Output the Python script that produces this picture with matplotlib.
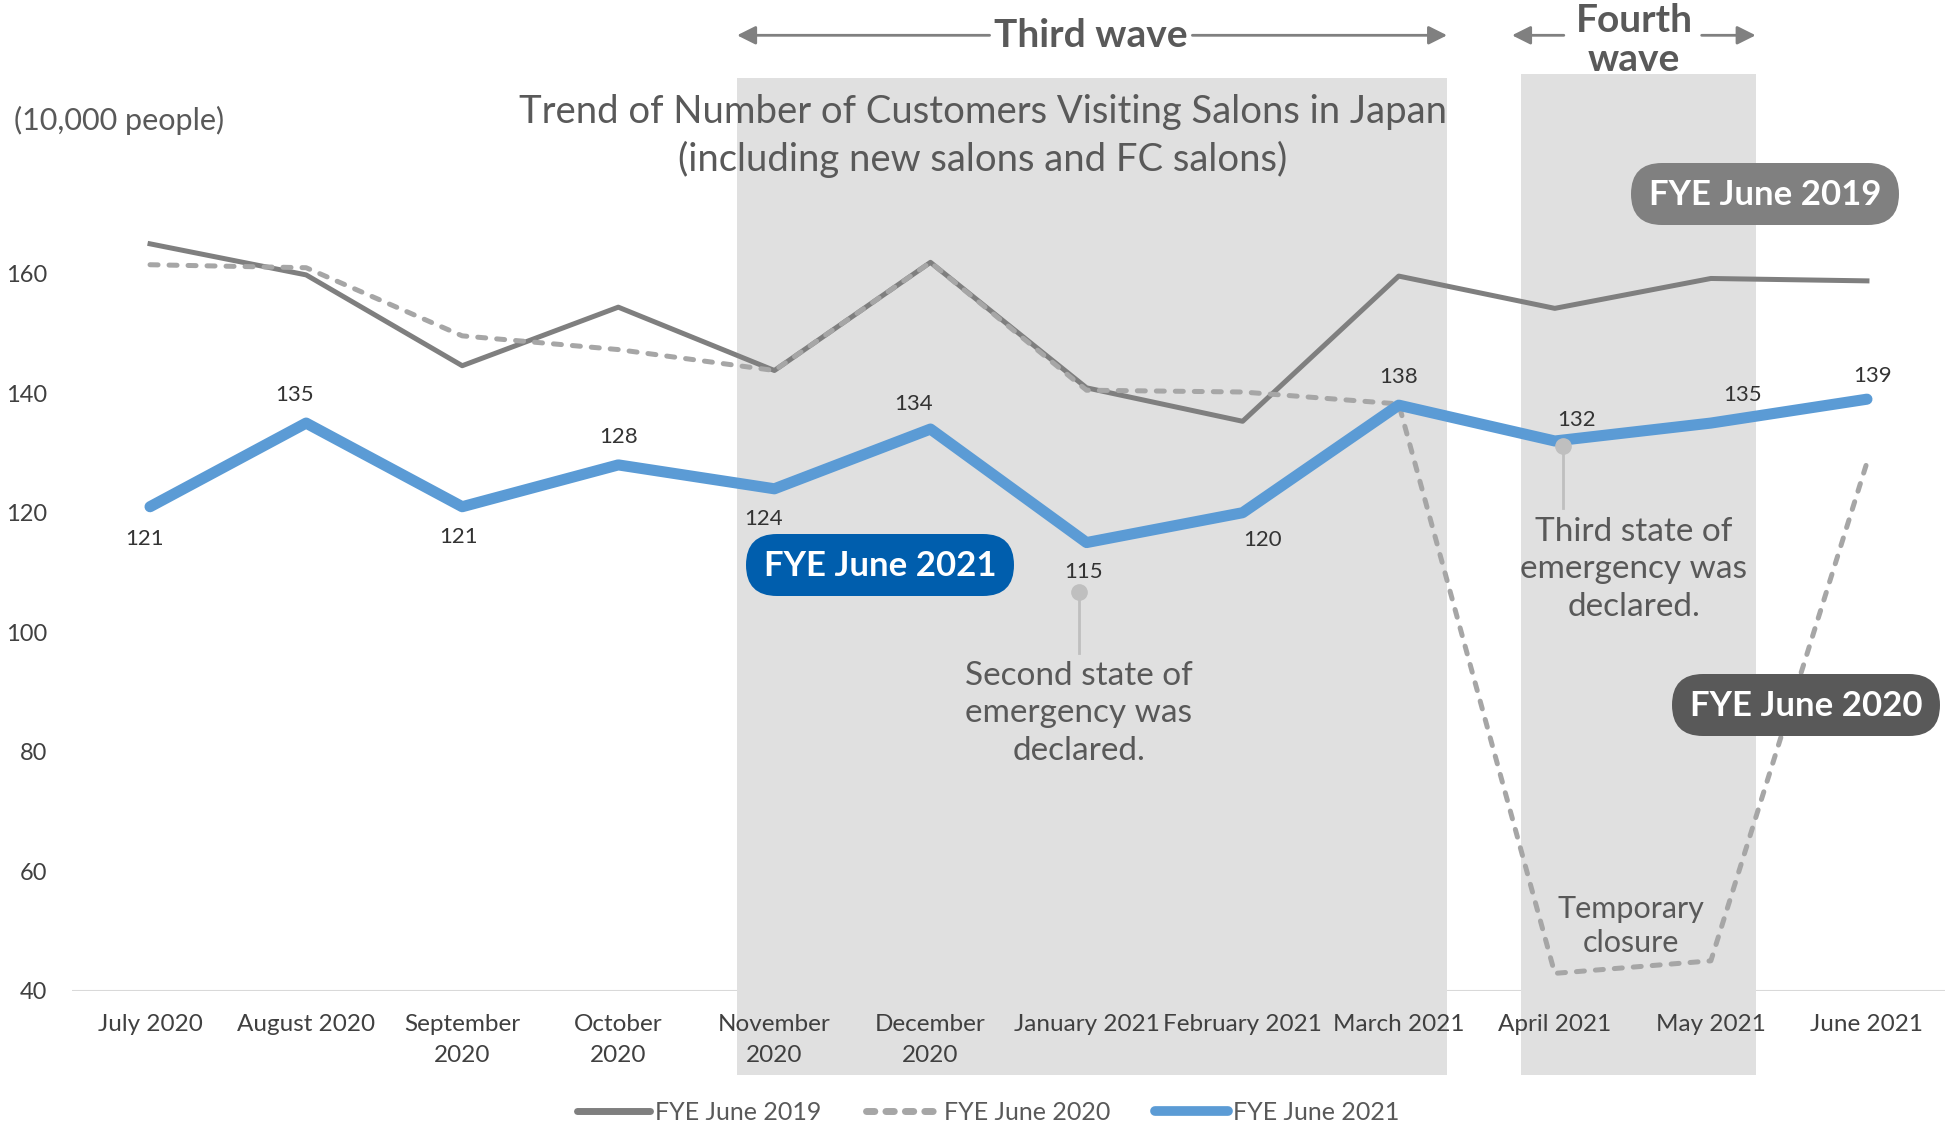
import matplotlib
matplotlib.use("Agg")
import matplotlib.pyplot as plt
from matplotlib.patches import Rectangle, FancyBboxPatch
from matplotlib.lines import Line2D
from matplotlib.transforms import IdentityTransform

plt.rcParams["font.family"] = ["Lato", "DejaVu Sans"]

months = ["July 2020", "August 2020", "September\n2020", "October\n2020",
          "November\n2020", "December\n2020", "January 2021", "February 2021",
          "March 2021", "April 2021", "May 2021", "June 2021"]
fye_2019 = [165.0, 159.8, 144.6, 154.4, 143.8, 161.9, 140.9, 135.3, 159.6, 154.2, 159.2, 158.8]
fye_2020 = [161.5, 161.0, 149.6, 147.3, 143.8, 161.9, 140.5, 140.2, 138.2, 42.9, 45.0, 128.4]
fye_2021 = [121, 135, 121, 128, 124, 134, 115, 120, 138, 132, 135, 139]
y_ticks = [40, 60, 80, 100, 120, 140, 160]
series_names = ["FYE June 2019", "FYE June 2020", "FYE June 2021"]

# label offsets (points) for the FYE June 2021 values
label_offsets = [(-4, -23), (-8, 20), (-3, -22), (0, 20), (-8, -22), (-12, 18),
                 (-2, -21), (14, -20), (0, 20), (16, 15), (23, 20), (4, 17)]

TEXT = "#595959"
TICK = "#404040"
SHADE = "#E0E0E0"
W, H = 1949, 1127

fig = plt.figure(figsize=(W / 100, H / 100), dpi=100)
ax = fig.add_axes([72 / W, (H - 990.7) / H, (1945 - 72) / W, 956 / H])
ax.set_xlim(-0.5, 11.5)
ax.set_ylim(40, 200)
for s in ax.spines.values():
    s.set_visible(False)
ax.axhline(40, color="#D9D9D9", lw=1.5, zorder=0.5)

# wave shading
ax.add_patch(Rectangle((3.761, 25.9), 8.310 - 3.761, 192.7 - 25.9,
                       color=SHADE, lw=0, zorder=1, clip_on=False))
ax.add_patch(Rectangle((8.783, 25.9), 10.287 - 8.783, 193.4 - 25.9,
                       color=SHADE, lw=0, zorder=1, clip_on=False))

x = list(range(len(months)))
ax.plot(x, fye_2019, color="#7F7F7F", lw=3.6, solid_joinstyle="round", zorder=3)
ax.plot(x, fye_2020, color="#A6A6A6", lw=3.6, dashes=(1.6, 2.2),
        dash_capstyle="round", dash_joinstyle="round", zorder=3)
ax.plot(x, fye_2021, color="#5B9BD5", lw=8, solid_capstyle="round",
        solid_joinstyle="round", zorder=4)

for xi, v, (dx, dy) in zip(x, fye_2021, label_offsets):
    ax.annotate(str(v), (xi, v), xytext=(dx, dy), textcoords="offset points",
                ha="center", va="center", fontsize=16, color="#333333", zorder=6)

ax.set_xticks(x)
ax.set_xticklabels(months, fontsize=17.5, color=TICK, linespacing=1.55)
ax.set_yticks(y_ticks)
ax.set_yticklabels([str(t) for t in y_ticks], fontsize=17, color=TICK)
ax.tick_params(axis="both", length=0)
ax.tick_params(axis="x", pad=17)
ax.tick_params(axis="y", pad=18)

# wave arrows
arrow = dict(arrowstyle="-|>", color="#808080", lw=2, mutation_scale=28, shrinkA=0, shrinkB=0)
for start, end in [(5.379, 3.761), (6.678, 8.310), (9.058, 8.726), (9.941, 10.287)]:
    ax.annotate("", xy=(end, 199.9), xytext=(start, 199.9), arrowprops=arrow,
                annotation_clip=False, zorder=5)
ax.text(6.03, 199.9, "Third wave", ha="center", va="center", fontsize=28,
        fontweight="bold", color=TEXT, clip_on=False)
ax.text(9.507, 199.1, "Fourth\nwave", ha="center", va="center", fontsize=28,
        fontweight="bold", color=TEXT, linespacing=1.15, clip_on=False, zorder=5)

ax.text(5.335, 183.0, "Trend of Number of Customers Visiting Salons in Japan\n"
        "(including new salons and FC salons)", ha="center", va="center",
        fontsize=27.5, color=TEXT, linespacing=1.37, zorder=5)
fig.text(14 / W, 1 - 120 / H, "(10,000 people)", ha="left", va="center",
         fontsize=22, color=TEXT)

# series pills (pixel centres from the top-left corner)
pills = [(series_names[2], 880, 565, "#005EAD"),
         (series_names[0], 1765, 194, "#808080"),
         (series_names[1], 1806, 705, "#595959")]
pw, ph = 268, 62
for label, cx, cy, col in pills:
    fig.add_artist(FancyBboxPatch((cx - pw / 2, H - cy - ph / 2), pw, ph,
                                  boxstyle=f"round,pad=0,rounding_size={ph / 2}",
                                  fc=col, ec="none", transform=IdentityTransform(),
                                  zorder=7))
    fig.text(cx / W, 1 - (cy + 1) / H, label, ha="center", va="center", fontsize=25,
             color="white", fontweight="bold", zorder=8)

# callouts
ax.plot([5.95, 5.95], [106.7, 96.5], color="#BFBFBF", lw=2, zorder=5)
ax.plot([5.95], [106.7], "o", color="#BFBFBF", ms=11, zorder=5)
ax.text(5.95, 86.4, "Second state of\nemergency was\ndeclared.", ha="center",
        va="center", fontsize=24, color=TEXT, linespacing=1.33, zorder=5)
ax.plot([9.05, 9.05], [131.1, 120.8], color="#BFBFBF", lw=2, zorder=5)
ax.plot([9.05], [131.1], "o", color="#BFBFBF", ms=11, zorder=5)
ax.text(9.507, 110.5, "Third state of\nemergency was\ndeclared.", ha="center",
        va="center", fontsize=24, color=TEXT, linespacing=1.33, zorder=5)
ax.text(9.49, 50.8, "Temporary\nclosure", ha="center", va="center",
        fontsize=22, color=TEXT, linespacing=1.25, zorder=5)

handles = [
    Line2D([], [], color="#7F7F7F", lw=5, solid_capstyle="round"),
    Line2D([], [], color="#A6A6A6", lw=5, dashes=(1.2, 1.6), dash_capstyle="round"),
    Line2D([], [], color="#5B9BD5", lw=7, solid_capstyle="round"),
]
fig.legend(handles, series_names, loc="center", bbox_to_anchor=(0.507, 0.013),
           ncol=3, frameon=False, fontsize=18, handlelength=2.9, handletextpad=0.2,
           columnspacing=1.8, labelcolor=TEXT)

fig.savefig("out.png", dpi=100)
